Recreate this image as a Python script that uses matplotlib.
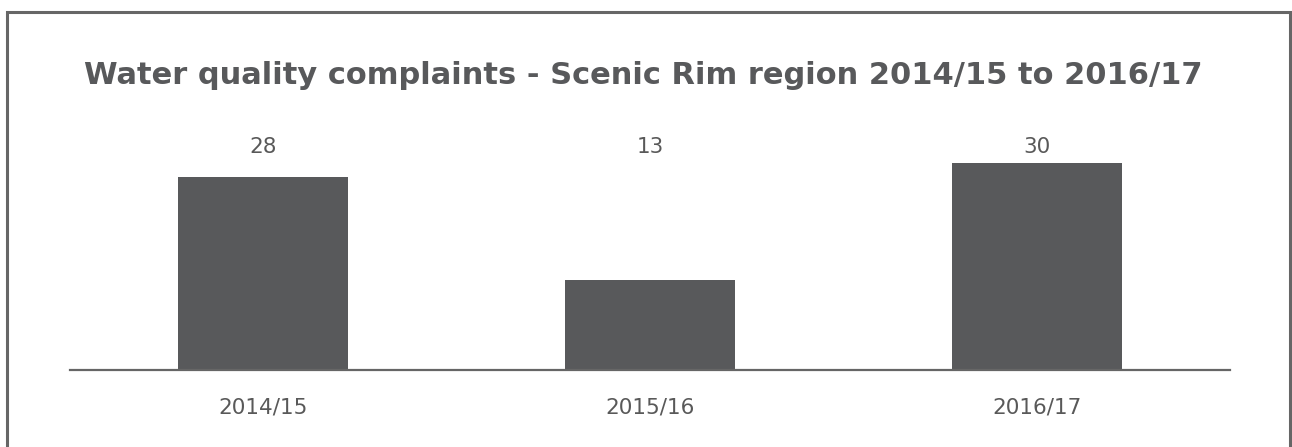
import matplotlib.pyplot as plt
from matplotlib.patches import Rectangle

# data
years = ["2014/15", "2015/16", "2016/17"]
complaints = [28, 13, 30]

title = "Water quality complaints - Scenic Rim region 2014/15 to 2016/17"

BAR = "#58595B"
TXT = "#595959"


def main():
    W, H = 1292, 447
    fig = plt.figure(figsize=(W / 100, H / 100), dpi=100)

    # grey frame round the whole graphic (bottom edge runs off the image)
    fig.patches.append(Rectangle((7 / W, -0.05), (1290 - 7) / W, (H - 12) / H + 0.05,
                                 transform=fig.transFigure, fill=False,
                                 edgecolor="#666666", linewidth=2.2))

    # axes: baseline at y=370px, 6.9 px per complaint
    left, right = 70, 1230
    bottom_px = 370
    top_px = 130
    ax = fig.add_axes([left / W, (H - bottom_px) / H, (right - left) / W, (bottom_px - top_px) / H])
    x = range(len(years))
    ax.bar(x, complaints, width=0.44, color=BAR)
    ax.set_xlim(-0.5, len(years) - 0.5)
    ax.set_ylim(0, (bottom_px - top_px) / 6.9)

    for s in ["top", "right", "left"]:
        ax.spines[s].set_visible(False)
    ax.spines["bottom"].set_color("#666666")
    ax.spines["bottom"].set_linewidth(1.6)
    ax.set_yticks([])
    ax.set_xticks(list(x))
    ax.set_xticklabels(years, fontsize=15.5, color=TXT)
    ax.tick_params(axis="x", length=0, pad=20)

    # value labels sit on one line near the top
    for i, v in enumerate(complaints):
        ax.text(i, 0.93, str(v), transform=ax.get_xaxis_transform(),
                ha="center", va="center", fontsize=15.5, color=TXT)

    fig.text(643 / W, 1 - 75 / H, title, ha="center", va="center",
             fontsize=22, fontweight="heavy", color=BAR,
             family=["DejaVu Sans"])

    fig.savefig("out.png", dpi=100, facecolor="white")


if __name__ == "__main__":
    main()
